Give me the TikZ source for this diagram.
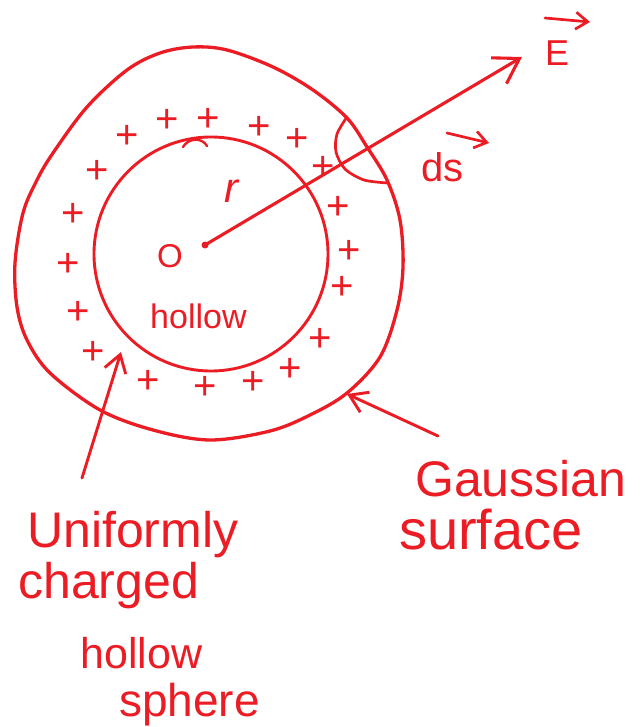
\documentclass[tikz,border=0pt]{standalone}
\usepackage{fontspec}
\setmainfont{Liberation Sans}
\usetikzlibrary{arrows.meta}
\definecolor{ink}{RGB}{235,28,36}
\newcommand{\fs}[1]{\fontsize{#1}{#1}\selectfont}
\begin{document}
\begin{tikzpicture}[x=1pt,y=-1pt, line cap=round, line join=round,
  stroke/.style={draw=ink, line width=3.1pt},
  lbl/.style={text=ink, inner sep=0pt, anchor=base west},
  chg/.style={text=ink, inner sep=0pt, font=\fs{40}},
  bigtip/.style={-{Straight Barb[length=24pt,width=30pt]}},
  midtip/.style={-{Straight Barb[length=17pt,width=22pt]}},
  smalltip/.style={-{Straight Barb[length=12pt,width=17pt]}}]
\useasboundingbox (0,0) rectangle (641,727);

% Gaussian surface (outer)
\draw[stroke, line width=3.3pt] plot[smooth cycle, tension=0.55] coordinates {
 (193,47) (227,50) (273,67) (313,90) (347,118) (367,147) (387,180)
 (400,220) (403,267) (397,310) (380,357) (347,393) (310,415) (270,431)
 (210,440) (153,430) (100,410) (50,373) (27,340) (17,307) (15,263)
 (23,213) (37,180) (53,153) (87,107) (127,70) (160,53)};

% charged hollow sphere (inner)
\draw[stroke, line width=2.9pt] (211,254) circle[radius=117];
\draw[stroke, line width=2.4pt] (183,147) .. controls (188,138) and (202,137) .. (207,146);

% charges
\foreach \p in {(127,137),(167,121),(208,120),(259,128),(297,140),
                (97,172),(73,215),(68,265),(78,313),(93,353),
                (323,168),(338,208),(349,252),(342,288),(320,340),
                (290,370),(148,382),(205,388),(253,383)}
  \node[chg] at \p {+};

% centre and radius / field line
\node[circle, fill=ink, inner sep=0pt, minimum size=7pt] (O) at (205,245) {};
\coordinate (Etip) at (522,57);
\draw[stroke, bigtip] (O.center) -- (Etip);

% area element dS
\draw[stroke, line width=2.7pt] plot[smooth] coordinates {(347,117) (337,134) (336,152) (345,169) (364,180) (388,183)};

% labels
\node[lbl, font=\fs{33}] (lO) at (157,267) {O};
\node[lbl, font=\fs{42}\itshape] (lr) at (224,203) {r};
\node[lbl, font=\fs{34}] (lhin) at (150,328) {hollow};
\node[lbl, font=\fs{36}] (lE) at (545,66) {E};
\coordinate (Ea) at (545,18);
\coordinate (Eb) at (590,22);
\draw[stroke, line width=2.7pt, smalltip] (Ea) -- (Eb);
\node[lbl, font=\fs{40}] (lds) at (421,182) {ds};
\coordinate (dsa) at (447,133);
\coordinate (dsb) at (489,143);
\draw[stroke, line width=2.7pt, smalltip] (dsa) -- (dsb);

\node[lbl, font=\fs{50}] (l1) at (27,547) {Uniformly};
\node[lbl, font=\fs{50}] (l2) at (18,598) {charged};
\node[lbl, font=\fs{43}] (l3) at (80,668) {hollow};
\node[lbl, font=\fs{46}] (l4) at (119,716) {sphere};

\node[lbl, font=\fs{50}] (g1) at (415,496) {Gaussian};
\node[lbl, font=\fs{56}] (g2) at (399,549) {surface};

% pointer arrows
\coordinate (utail) at (82,478);
\coordinate (uhead) at (121,352);
\draw[stroke, line width=2.9pt, midtip] (utail) -- (uhead);
\coordinate (gtail) at (438,436);
\coordinate (ghead) at (347,394);
\draw[stroke, line width=2.9pt, midtip] (gtail) -- (ghead);
\end{tikzpicture}
\end{document}
